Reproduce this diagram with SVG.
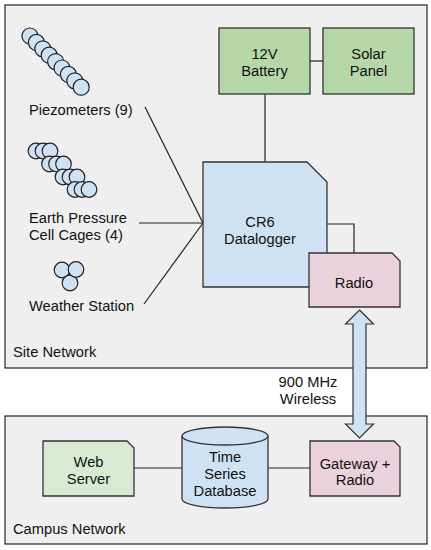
<svg xmlns="http://www.w3.org/2000/svg" width="431" height="550" viewBox="0 0 431 550">
<style>
.cont{fill:#efefef;stroke:#333;stroke-width:1.3}
.t{font-family:"Liberation Sans",Arial,sans-serif;font-size:14.7px;fill:#111}
.c{text-anchor:middle}
.box{stroke:#333;stroke-width:1.3}
.green{fill:#b6d7a8}
.lgreen{fill:#d9ead3}
.blue{fill:#cfe2f3}
.pink{fill:#ead1dc}
.conn{stroke:#222;stroke-width:1.2;fill:none}
.dot{fill:#cfe2f3;stroke:#222;stroke-width:1.2}
</style>
<rect width="431" height="550" fill="#ffffff"/>
<g id="site-network">
<rect class="cont" x="5" y="5" width="422" height="363"/>
<text class="t" x="13" y="357">Site Network</text>
</g>
<g id="campus-network">
<rect class="cont" x="5" y="416" width="422" height="128"/>
<text class="t" x="13" y="534">Campus Network</text>
</g>
<g id="connectors">
<line class="conn" x1="310" y1="61" x2="323" y2="61"/>
<line class="conn" x1="265" y1="94" x2="265" y2="162"/>
<line class="conn" x1="145" y1="107" x2="203" y2="223"/>
<line class="conn" x1="139" y1="223" x2="203" y2="223"/>
<line class="conn" x1="144" y1="304" x2="203" y2="223"/>
<polyline class="conn" points="327,224 354,224 354,253"/>
<line class="conn" x1="134" y1="468" x2="182" y2="468"/>
<line class="conn" x1="268" y1="468" x2="310" y2="468"/>
<path d="M359.5,310 L373.5,324 L366,324 L366,424 L373.5,424 L359.5,438 L345.5,424 L353,424 L353,324 L345.5,324 Z" fill="#cfe2f3" stroke="#333" stroke-width="1.2"/>
</g>
<g id="wireless-label">
<text class="t c" x="308" y="387">900 MHz</text>
<text class="t c" x="308" y="404">Wireless</text>
</g>
<g id="battery">
<rect class="box green" x="219" y="28" width="91" height="66"/>
<text class="t c" x="264.5" y="59">12V</text>
<text class="t c" x="264.5" y="76">Battery</text>
</g>
<g id="solar-panel">
<rect class="box green" x="323" y="28" width="91" height="66"/>
<text class="t c" x="368.5" y="59">Solar</text>
<text class="t c" x="368.5" y="76">Panel</text>
</g>
<g id="datalogger">
<path class="box blue" d="M203,162 L307,162 L327,182 L327,287 L203,287 Z"/>
<text class="t c" x="260" y="227">CR6</text>
<text class="t c" x="260" y="244">Datalogger</text>
</g>
<g id="radio">
<path class="box pink" d="M309,253 L392,253 L400,261 L400,307 L309,307 Z"/>
<text class="t c" x="354" y="288">Radio</text>
</g>
<g id="piezometers">
<circle class="dot" cx="30" cy="36" r="8"/>
<circle class="dot" cx="36.4" cy="42.4" r="8"/>
<circle class="dot" cx="42.8" cy="48.8" r="8"/>
<circle class="dot" cx="49.2" cy="55.2" r="8"/>
<circle class="dot" cx="55.6" cy="61.6" r="8"/>
<circle class="dot" cx="62" cy="68" r="8"/>
<circle class="dot" cx="68.4" cy="74.4" r="8"/>
<circle class="dot" cx="74.8" cy="80.8" r="8"/>
<circle class="dot" cx="81.2" cy="87.2" r="8"/>
<text class="t" x="29" y="115">Piezometers (9)</text>
</g>
<g id="earth-pressure-cells">
<circle class="dot" cx="36" cy="151" r="7.8"/>
<circle class="dot" cx="43" cy="151" r="7.8"/>
<circle class="dot" cx="50" cy="151" r="7.8"/>
<circle class="dot" cx="49.5" cy="164" r="7.8"/>
<circle class="dot" cx="56.5" cy="164" r="7.8"/>
<circle class="dot" cx="63.5" cy="164" r="7.8"/>
<circle class="dot" cx="63" cy="177" r="7.8"/>
<circle class="dot" cx="70" cy="177" r="7.8"/>
<circle class="dot" cx="77" cy="177" r="7.8"/>
<circle class="dot" cx="75" cy="189.5" r="7.8"/>
<circle class="dot" cx="82" cy="189.5" r="7.8"/>
<circle class="dot" cx="89" cy="189.5" r="7.8"/>
<text class="t" x="29" y="223">Earth Pressure</text>
<text class="t" x="29" y="240">Cell Cages (4)</text>
</g>
<g id="weather-station">
<circle class="dot" cx="62" cy="270" r="7.8"/>
<circle class="dot" cx="70" cy="283" r="7.8"/>
<circle class="dot" cx="76" cy="269.5" r="7.8"/>
<text class="t" x="29" y="311">Weather Station</text>
</g>
<g id="web-server">
<path class="box lgreen" d="M43,441 L127,441 L134,448 L134,496 L43,496 Z"/>
<text class="t c" x="88.5" y="467">Web</text>
<text class="t c" x="88.5" y="484">Server</text>
</g>
<g id="database">
<path class="box blue" d="M182,436 A43,9 0 0 1 268,436 L268,499 A43,9 0 0 1 182,499 Z"/>
<path d="M182,436 A43,9 0 0 0 268,436" fill="none" stroke="#333" stroke-width="1.3"/>
<text class="t c" x="225" y="462">Time</text>
<text class="t c" x="225" y="479">Series</text>
<text class="t c" x="225" y="496">Database</text>
</g>
<g id="gateway">
<path class="box pink" d="M310,441 L394,441 L400,447 L400,496 L310,496 Z"/>
<text class="t c" x="355" y="469">Gateway +</text>
<text class="t c" x="355" y="485">Radio</text>
</g>
</svg>
